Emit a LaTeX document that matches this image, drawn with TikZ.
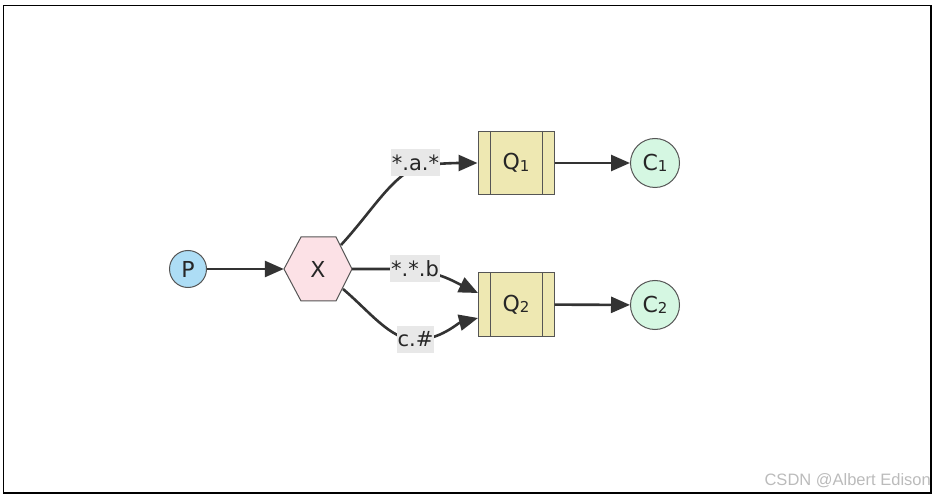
\documentclass[tikz,border=0pt]{standalone}
\usepackage{fontspec}
\setmainfont{DejaVu Sans}
\newfontfamily\wmfont{Liberation Sans}
\usetikzlibrary{arrows.meta}
\definecolor{edgec}{HTML}{333333}
\definecolor{strokec}{HTML}{555555}
\definecolor{pfill}{HTML}{ADDDF5}
\definecolor{xfill}{HTML}{FCE1E6}
\definecolor{qfill}{HTML}{EEE8B2}
\definecolor{cfill}{HTML}{D5F7E2}
\definecolor{lblfill}{HTML}{E8E8E8}
\definecolor{wmc}{HTML}{BBBBBB}
\tikzset{
  nodetext/.style={font=\fontsize{22}{24}\selectfont, text=black!85},
  pnode/.style={circle, draw=strokec, line width=1pt, fill=pfill, minimum size=37pt, inner sep=0pt, nodetext},
  cnode/.style={circle, draw=strokec, line width=1pt, fill=cfill, minimum size=49pt, inner sep=0pt, nodetext},
  qnode/.style={rectangle, draw=strokec, line width=1pt, fill=qfill, minimum width=76pt, minimum height=63pt, inner sep=0pt, nodetext},
  hexbox/.style={draw=strokec, line width=1pt, fill=xfill},
  xnode/.style={rectangle, minimum width=68pt, minimum height=64pt, inner sep=0pt, nodetext},
  lbl/.style={fill=lblfill, inner sep=1pt, minimum height=27pt, font=\fontsize{21}{23}\selectfont, text=black!85},
  edge/.style={draw=edgec, line width=2.6pt, -{Triangle[length=19pt,width=16pt]}},
}
\newcommand{\subdig}[1]{\raisebox{-1.5pt}{\fontsize{15}{15}\selectfont #1}}
\begin{document}
\begin{tikzpicture}[x=1pt,y=-1pt]
\useasboundingbox (0,0) rectangle (935,497);
\draw[line width=1.2pt, black] (3.5,5.5) rectangle (931,493);

% nodes
\node[pnode] (P) at (188,269) {P};
\draw[hexbox] (284,269) -- (301,237) -- (336,237) -- (352,269) -- (336,301) -- (301,301) -- cycle;
\node[xnode] (X) at (318,269) {X};
\node[qnode] (Q1) at (516,163) {Q\subdig{1}};
\node[qnode] (Q2) at (516,304.5) {Q\subdig{2}};
\draw[strokec, line width=1pt] ([xshift=13pt]Q1.north west) -- ([xshift=13pt]Q1.south west);
\draw[strokec, line width=1pt] ([xshift=-12pt]Q1.north east) -- ([xshift=-12pt]Q1.south east);
\draw[strokec, line width=1pt] ([xshift=13pt]Q2.north west) -- ([xshift=13pt]Q2.south west);
\draw[strokec, line width=1pt] ([xshift=-12pt]Q2.north east) -- ([xshift=-12pt]Q2.south east);
\node[cnode] (C1) at (655,163) {C\subdig{1}};
\node[cnode] (C2) at (655,305) {C\subdig{2}};

% anchor points on hexagon
\coordinate (Xa) at (341,245);
\coordinate (Xc) at (343,289);
\coordinate (Q2a) at (478,293);
\coordinate (Q2b) at (478,318);

% edges
\draw[edge] (P) -- (X.west);
\draw[edge] (Xa) .. controls (375,208) and (395,170) .. (425,165) .. controls (445,163) and (460,163) .. (Q1.west);
\draw[edge] (X.east) -- (405,269) .. controls (435,270) and (455,282) .. (Q2a);
\draw[edge] (Xc) .. controls (370,312) and (390,339) .. (415,340) .. controls (440,340) and (458,323) .. (Q2b);
\draw[edge] (Q1) -- (C1);
\draw[edge] (Q2) -- (C2);

% labels
\node[lbl] (L1) at (415.5,163) {*.a.*};
\node[lbl] (L2) at (415,269) {*.*.b};
\node[lbl] (L3) at (415.5,339) {c.\#};

% watermark
\node[anchor=south east, inner sep=0pt, text=wmc, font=\wmfont\fontsize{16.5}{18}\selectfont] (wm) at (931,488) {CSDN @Albert Edison};
\end{tikzpicture}
\end{document}
